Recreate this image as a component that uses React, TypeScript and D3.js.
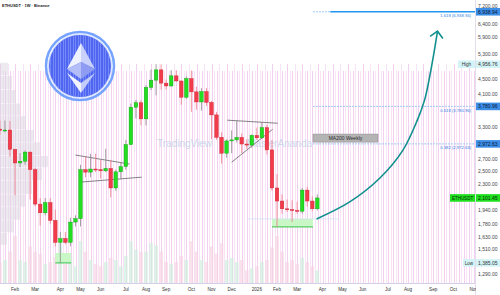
import React from "react";
import * as d3 from "d3";

// ---------- data ----------
const weekStarts = [
  "2025-01-13","2025-01-20","2025-01-27","2025-02-03","2025-02-10","2025-02-17","2025-02-24",
  "2025-03-03","2025-03-10","2025-03-17","2025-03-24","2025-03-31","2025-04-07","2025-04-14",
  "2025-04-21","2025-04-28","2025-05-05","2025-05-12","2025-05-19","2025-05-26","2025-06-02",
  "2025-06-09","2025-06-16","2025-06-23","2025-06-30","2025-07-07","2025-07-14","2025-07-21",
  "2025-07-28","2025-08-04","2025-08-11","2025-08-18","2025-08-25","2025-09-01","2025-09-08",
  "2025-09-15","2025-09-22","2025-09-29","2025-10-06","2025-10-13","2025-10-20","2025-10-27",
  "2025-11-03","2025-11-10","2025-11-17","2025-11-24","2025-12-01","2025-12-08","2025-12-15",
  "2025-12-22","2025-12-29","2026-01-05","2026-01-12","2026-01-19","2026-01-26","2026-02-02",
  "2026-02-09","2026-02-16","2026-02-23","2026-03-02","2026-03-09","2026-03-16","2026-03-23",
  "2026-03-30"
];
const opens = [3270,3240,3250,2870,2630,2660,2820,2520,2020,1910,2040,1820,1580,1620,1580,1800,1840,2520,2480,2530,2520,2500,2540,2240,2485,2570,2960,3760,3870,3490,4270,4475,4780,4390,4310,4600,4450,4010,4520,4150,3890,4160,3880,3580,3100,2800,3030,3050,3100,2970,2950,3140,3090,3300,2860,2240,2060,1960,1950,1940,1930,2210,2060,1960];
const highs = [3450,3450,3440,2880,2800,2850,2830,2550,2100,2100,2100,1950,1690,1690,1850,1880,2600,2740,2790,2790,2680,2880,2680,2520,2640,3050,3850,3940,3940,4330,4790,4956.76,4950,4490,4770,4770,4470,4580,4760,4290,4250,4250,3920,3650,3200,3060,3240,3450,3180,3060,3160,3300,3420,3360,3050,2450,2150,2080,2070,2050,2240,2260,2120,2150];
const lows = [3150,3200,2740,2140,2560,2600,2080,1990,1760,1880,1780,1540,1385.05,1560,1540,1750,1750,2400,2400,2480,2380,2480,2110,2200,2370,2520,2950,3500,3350,3350,4200,4060,4210,4210,4290,4440,3820,3970,3650,3700,3680,3790,3060,3050,2620,2720,2800,3000,2800,2880,2900,3050,3070,2780,2200,1745,1900,1920,1800,1900,1900,1990,1930,1940];
const closes = [3240,3250,2870,2630,2660,2820,2520,2020,1910,2040,1820,1580,1620,1580,1800,1840,2520,2480,2530,2520,2500,2540,2240,2485,2570,2960,3760,3870,3490,4270,4475,4780,4390,4310,4600,4450,4010,4520,4150,3890,4160,3880,3580,3100,2800,3030,3050,3100,2970,2950,3140,3090,3300,2860,2240,2060,1960,1950,1940,1930,2210,2060,1960,2101.45];
const volumes = [20,22,30,45,22,20,35,30,28,18,20,25,38,18,24,16,40,30,22,18,16,20,24,22,16,26,40,32,30,30,38,36,30,20,18,20,26,22,40,30,22,20,35,28,38,22,24,20,22,12,14,16,20,22,34,45,30,20,22,18,24,20,16,12];

const yTickValues = [7200,6400,5900,5300,4500,4100,3300,2700,2500,2300,1940,1780,1630,1510,1290];
const monthTickDates = ["2025-02-03","2025-03-03","2025-04-07","2025-05-05","2025-06-02","2025-07-07","2025-08-04","2025-09-01","2025-10-06","2025-11-03","2025-12-01","2026-01-05","2026-02-02","2026-03-02","2026-04-06","2026-05-04","2026-06-01","2026-07-06","2026-08-03","2026-09-07","2026-10-05","2026-11-02"];
const monthTickLabels = ["Feb","Mar","Apr","May","Jun","Jul","Aug","Sep","Oct","Nov","Dec","2026","Feb","Mar","Apr","May","Jun","Jul","Aug","Sep","Oct","Nov"];

const fibLevels = [6938.94, 3780.96, 2972.63];
const fibRatios = ["1.618", "0.618", "0.382"];
const highValue = 4956.76;
const lowValue = 1385.05;
const lastPrice = 2101.45;

const profileEdges = [5000,4600,4200,3850,3550,3250,3000,2750,2550,2350,2150,1980,1820,1680,1550];
const profileWidths = [8,12,16,20,26,34,40,48,42,32,25,20,14,7];

const arrowDates = ["2026-03-29","2026-05-14","2026-06-25","2026-07-27","2026-08-16","2026-08-26","2026-09-02","2026-09-08","2026-09-13"];
const arrowPrices = [1837,2049,2389,2857,3463,3936,4562,5321,6126];

const trendDates = [["2025-04-28","2025-07-12"],["2025-05-04","2025-07-29"],["2025-11-25","2026-02-03"],["2025-12-01","2026-01-27"]];
const trendPrices = [[2767,2612],[2325,2401],[3461,3394],[2643,3265]];

const zoneDates = [["2025-03-31","2025-04-22"],["2026-01-26","2026-03-24"]];
const zonePrices = [[1385.05,1476],[1745,1837]];

export default function App() {
  const parse = d3.utcParse("%Y-%m-%d");
  const x = d3.scaleUtc().domain([parse("2025-02-03")!, parse("2026-02-02")!]).range([15, 277]);
  const y = d3.scaleLog().domain([1290, 7200]).range([274, 6]);
  const plotRight = 475;
  const axisY = 283;
  const bw = 3.6;
  const fmt = d3.format(",.2f");
  const vScale = d3.scaleLinear().domain([0, 45]).range([axisY, 236]);

  const candles = weekStarts.map((d, i) => ({
    x: x(parse(d)!), o: opens[i], h: highs[i], l: lows[i], c: closes[i], v: volumes[i],
  }));

  const stripes = d3.range(0, plotRight, 2.52);
  const font = "'Liberation Sans', Arial, sans-serif";

  // arrow
  const aPts: [number, number][] = arrowDates.map((d, i) => [x(parse(d)!), y(arrowPrices[i])]);
  const arrowPath = d3.line().curve(d3.curveCatmullRom.alpha(0.5))(aPts) || "";
  const tip = aPts[aPts.length - 1];
  const prev = aPts[aPts.length - 2];
  const ang = Math.atan2(tip[1] - prev[1], tip[0] - prev[0]);
  const wl = 9;
  const w1 = [tip[0] - wl * Math.cos(ang - 0.8), tip[1] - wl * Math.sin(ang - 0.8)];
  const w2 = [tip[0] - wl * Math.cos(ang + 0.8), tip[1] - wl * Math.sin(ang + 0.8)];

  const fibStart = x(parse("2026-03-24")!);
  const fibSolid = x(parse("2026-04-17")!);

  const axisLabel = (val: number, bg: string, fg: string, key: string) => (
    <g key={key}>
      <rect x={476} y={y(val) - 3.8} width={24} height={7.6} fill={bg} />
      <text x={478} y={y(val) + 1.8} fontSize={5} fill={fg}>{fmt(val)}</text>
    </g>
  );

  return (
    <svg width={500} height={295} style={{ position: "absolute", left: 0, top: 0 }} fontFamily={font}>
      <defs>
        <clipPath id="plotClip"><rect x={0} y={0} width={plotRight} height={axisY} /></clipPath>
        <clipPath id="logoClip"><circle cx={80} cy={66} r={31} /></clipPath>
        <clipPath id="xlabClip"><rect x={0} y={axisY} width={476} height={12} /></clipPath>
      </defs>
      <rect width={500} height={295} fill="#ffffff" />

      {/* background stripes */}
      <g>
        {stripes.map((sx, i) => (
          <line key={i} x1={Math.round(sx) + 0.5} x2={Math.round(sx) + 0.5} y1={i % 3 === 0 ? 64 : 71} y2={axisY}
            stroke={i % 2 === 0 ? "#f4d0f0" : "#f9e4f7"} strokeWidth={1} />
        ))}
      </g>

      {/* volume profile */}
      <g opacity={0.55}>
        {profileWidths.map((w, i) => (
          <rect key={i} x={0} y={y(profileEdges[i])} width={w} height={y(profileEdges[i + 1]) - y(profileEdges[i]) - 0.6} fill="#ddd8e2" />
        ))}
      </g>

      {/* volume bars */}
      <g clipPath="url(#plotClip)">
        {candles.map((d, i) => (
          <rect key={i} x={d.x - bw / 2} y={vScale(d.v)} width={bw} height={axisY - vScale(d.v)}
            fill={d.c >= d.o ? "#cdeedc" : "#f6d2e0"} opacity={0.65} />
        ))}
      </g>

      {/* watermark */}
      <text x={157} y={147} fontSize={10} fill="#bcd0e4" opacity={0.75}>TradingView</text>
      <text x={247} y={147} fontSize={10} fill="#bcd0e4" opacity={0.75}>MasterAnanda</text>

      {/* ETH logo */}
      <g>
        <circle cx={80} cy={66} r={34} fill="none" stroke="#76a3ff" strokeWidth={2.5} />
        <circle cx={80} cy={66} r={32.2} fill="#d6e4ff" />
        <circle cx={80} cy={66} r={31} fill="#5066f0" />
        <g clipPath="url(#logoClip)">
          {d3.range(45, 116, 2.52).map((sx, i) => (
            <line key={i} x1={Math.round(sx) + 0.5} x2={Math.round(sx) + 0.5} y1={30} y2={100} stroke="#8aa0ff" strokeWidth={1} opacity={0.6} />
          ))}
        </g>
        <polygon points="81,43 67,69 81,62" fill="#eef1ff" />
        <polygon points="81,43 95,69 81,62" fill="#c9d1fc" />
        <polygon points="67,69 81,79 81,62" fill="#b3bdf8" />
        <polygon points="95,69 81,79 81,62" fill="#8e9cf2" />
        <polygon points="67,73 81,93 81,83" fill="#f2f4ff" />
        <polygon points="95,73 81,93 81,83" fill="#c4ccfa" />
      </g>

      {/* support zones */}
      {zoneDates.map((zd, i) => {
        const x0 = x(parse(zd[0])!), x1 = x(parse(zd[1])!);
        const yt = y(zonePrices[i][1]), yb = y(zonePrices[i][0]);
        return (
          <g key={i}>
            <rect x={x0} y={yt} width={x1 - x0} height={yb - yt} fill="#c9f7c6" />
            <line x1={x0} x2={x1} y1={yb} y2={yb} stroke="#35c24a" strokeWidth={1} />
          </g>
        );
      })}
      <line x1={x(parse("2025-12-23")!)} x2={x(parse("2026-04-30")!)} y1={y(1837)} y2={y(1837)} stroke="#cfe3f2" strokeWidth={0.8} />

      {/* fib levels */}
      <line x1={fibStart} x2={fibSolid} y1={y(fibLevels[0])} y2={y(fibLevels[0])} stroke="#9ccbf4" strokeWidth={1.2} strokeDasharray="2,1" />
      <line x1={fibSolid} x2={plotRight} y1={y(fibLevels[0])} y2={y(fibLevels[0])} stroke="#2196f3" strokeWidth={1.6} />
      {fibLevels.slice(1).map((lv, i) => (
        <line key={i} x1={fibStart} x2={plotRight} y1={y(lv)} y2={y(lv)} stroke="#8ec3ee" strokeWidth={0.8} strokeDasharray="2,1" />
      ))}
      {fibLevels.map((lv, i) => (
        <text key={i} x={471} y={y(lv) + 5.6} fontSize={4.2} fill="#2f7fe0" textAnchor="end">{`${fibRatios[i]} (${fmt(lv)})`}</text>
      ))}

      {/* label box */}
      <rect x={fibStart} y={y(3166)} width={65} height={y(3007) - y(3166)} fill="#b4b4b4" stroke="#8c8c8c" strokeWidth={0.5} />
      <text x={fibStart + 32.5} y={y(3166) + 5.6} fontSize={5} fill="#2a2a2a" textAnchor="middle">MA200 Weekly</text>

      {/* trendlines */}
      {trendDates.map((td, i) => (
        <line key={i} x1={x(parse(td[0])!)} y1={y(trendPrices[i][0])} x2={x(parse(td[1])!)} y2={y(trendPrices[i][1])}
          stroke="#505050" strokeWidth={0.7} />
      ))}

      {/* candles */}
      <g clipPath="url(#plotClip)">
        {candles.map((d, i) => {
          const up = d.c >= d.o;
          const top = y(Math.max(d.o, d.c));
          const bot = y(Math.min(d.o, d.c));
          return (
            <g key={i}>
              <line x1={d.x} x2={d.x} y1={y(d.h)} y2={y(d.l)} stroke={up ? "#8a8a8a" : "#f07a88"} strokeWidth={0.8} />
              <rect x={d.x - bw / 2} y={top} width={bw} height={Math.max(1, bot - top)}
                fill={up ? "#22dd22" : "#f23c4c"} stroke={up ? "#10a010" : "#c82434"} strokeWidth={0.4} />
            </g>
          );
        })}
      </g>

      {/* arrow */}
      <path d={arrowPath} fill="none" stroke="#12908e" strokeWidth={1.6} />
      <polyline points={`${w1[0]},${w1[1]} ${tip[0]},${tip[1]} ${w2[0]},${w2[1]}`} fill="none" stroke="#12908e" strokeWidth={1.6} />

      {/* title */}
      <text x={2} y={7} fontSize={4} fontWeight={700} fill="#222">ETHUSDT · 1W · Binance</text>

      {/* axes */}
      <line x1={0} x2={plotRight} y1={axisY + 0.5} y2={axisY + 0.5} stroke="#d4cfe8" strokeWidth={1} />
      <line x1={plotRight + 0.5} x2={plotRight + 0.5} y1={0} y2={295} stroke="#e2deec" strokeWidth={1} />
      <g clipPath="url(#xlabClip)">
        {monthTickDates.map((d, i) => (
          <text key={i} x={x(parse(d)!)} y={290.5} fontSize={4.6} fill="#333" textAnchor="middle">{monthTickLabels[i]}</text>
        ))}
      </g>
      {yTickValues.map((v, i) => (
        <text key={i} x={478} y={y(v) + 1.8} fontSize={5} fill="#444">{fmt(v)}</text>
      ))}

      {/* special axis labels */}
      {fibLevels.map((lv, i) => axisLabel(lv, "#3b8de6", "#0b1834", "f" + i))}
      <rect x={458} y={y(highValue) - 3.8} width={17} height={7.6} fill="#d4f3f6" />
      <text x={466.5} y={y(highValue) + 1.8} fontSize={4.5} fill="#333" textAnchor="middle">High</text>
      {axisLabel(highValue, "#d4f3f6", "#333", "hi")}
      <rect x={463} y={y(lowValue) - 3.8} width={12} height={7.6} fill="#d4f3f6" />
      <text x={469} y={y(lowValue) + 1.8} fontSize={4.5} fill="#333" textAnchor="middle">Low</text>
      {axisLabel(lowValue, "#d4f3f6", "#333", "lo")}
      <rect x={450} y={y(lastPrice) - 3.8} width={25} height={7.6} fill="#1fe01f" />
      <text x={462.5} y={y(lastPrice) + 1.8} fontSize={4.5} fill="#0a2a0a" textAnchor="middle">ETHUSDT</text>
      {axisLabel(lastPrice, "#1fe01f", "#0a2a0a", "last")}
    </svg>
  );
}
